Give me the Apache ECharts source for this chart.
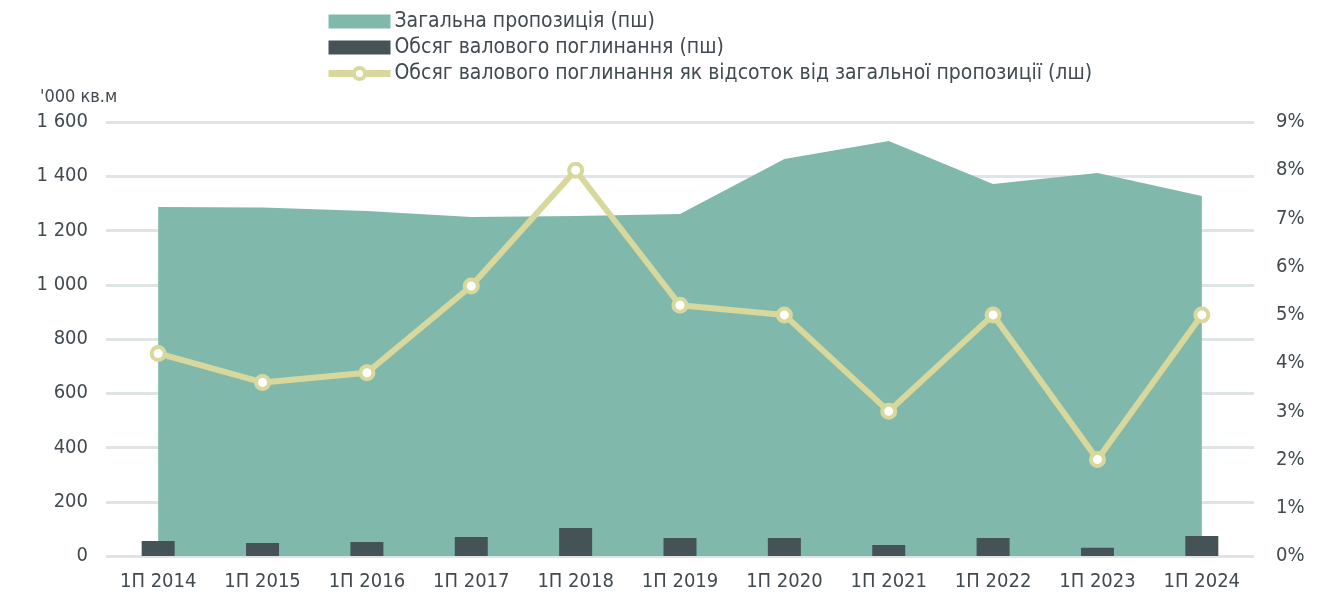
<!DOCTYPE html>
<html><head><meta charset="utf-8">
<script src="https://cdn.jsdelivr.net/npm/echarts@6/dist/echarts.min.js"></script>
<style>html,body{margin:0;padding:0;background:#fff}#c{width:1330px;height:608px}</style>
</head><body><div id="c"></div>
<script>
const categories = ['1П 2014','1П 2015','1П 2016','1П 2017','1П 2018','1П 2019','1П 2020','1П 2021','1П 2022','1П 2023','1П 2024'];
const totalSupply = [1287, 1285, 1272, 1250, 1253, 1261, 1464, 1530, 1371, 1412, 1327];
const grossTakeUp = [55, 48, 52, 70, 103, 66, 66, 41, 66, 30, 74];
const takeUpShare = [4.2, 3.6, 3.8, 5.6, 8.0, 5.2, 5.0, 3.0, 5.0, 2.0, 5.0];
const names = ['Загальна пропозиція (пш)','Обсяг валового поглинання (пш)','Обсяг валового поглинання як відсоток від загальної пропозиції (лш)'];
const unitLabel = "'000 кв.м";
const FONT = 'DejaVu Sans Condensed';
const TXT = '#404a4f';
const chart = echarts.init(document.getElementById('c'));
chart.setOption({
  animation: false,
  textStyle: {fontFamily: FONT},
  graphic: [{type: 'text', left: 40, top: 88, style: {text: unitLabel, fontFamily: FONT, fontSize: 18, fill: TXT}}],
  legend: {
    orient: 'vertical', left: 320, top: 6, itemGap: 5, itemWidth: 62, itemHeight: 14,
    textStyle: {fontFamily: FONT, fontSize: 21, color: TXT, padding: [0,0,0,-1]},
    data: [
      {name: names[0], icon: 'rect'},
      {name: names[1], icon: 'rect'},
      {name: names[2], lineStyle: {width: 7, color: '#d9d89c'}, itemStyle: {color: '#ffffff', borderColor: '#d9d89c', borderWidth: 4}}
    ]
  },
  grid: {left: 106, right: 76, top: 122, bottom: 52},
  xAxis: {
    type: 'category', data: categories, boundaryGap: true,
    axisLine: {show: false}, axisTick: {show: false},
    axisLabel: {fontFamily: FONT, fontSize: 20, color: TXT, margin: 16}
  },
  yAxis: [
    {type: 'value', min: 0, max: 1600, interval: 200,
     axisLine: {show: false}, axisTick: {show: false},
     splitLine: {lineStyle: {color: '#dfe4e4', width: 3}},
     axisLabel: {fontFamily: FONT, fontSize: 20, color: TXT, margin: 18,
       formatter: v => v >= 1000 ? Math.floor(v/1000) + ' ' + String(v % 1000).padStart(3,'0') : String(v)}},
    {type: 'value', min: 0, max: 9, interval: 1, position: 'right',
     axisLine: {show: false}, axisTick: {show: false}, splitLine: {show: false},
     axisLabel: {fontFamily: FONT, fontSize: 20, color: TXT, margin: 22, formatter: v => v + '%'}}
  ],
  series: [
    {name: names[0], type: 'line', data: totalSupply, yAxisIndex: 0, symbol: 'none',
     lineStyle: {width: 0}, itemStyle: {color: '#80b9ab'}, areaStyle: {color: '#80b9ab', opacity: 1}, z: 1},
    {name: names[1], type: 'bar', data: grossTakeUp, yAxisIndex: 0, barWidth: 33,
     itemStyle: {color: '#455357'}, z: 2},
    {name: names[2], type: 'line', data: takeUpShare, yAxisIndex: 1, symbol: 'circle', symbolSize: 13,
     lineStyle: {color: '#d9d89c', width: 6}, itemStyle: {color: '#ffffff', borderColor: '#d9d89c', borderWidth: 4}, z: 3}
  ]
});
</script></body></html>
